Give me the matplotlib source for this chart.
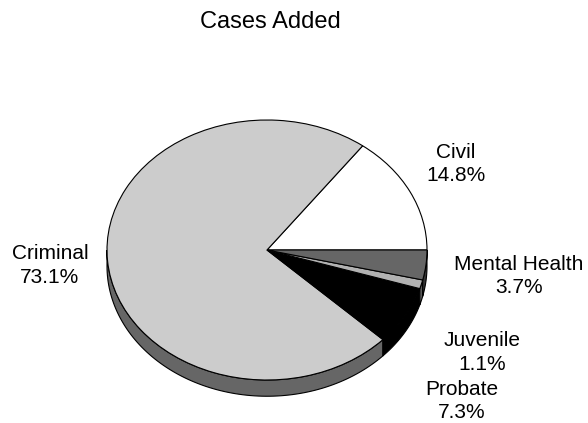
import numpy as np
import matplotlib.pyplot as plt
from matplotlib.patches import Polygon

# datos del grafico
categorias = ["Civil", "Criminal", "Probate", "Juvenile", "Mental Health"]
porcentajes = [14.8, 73.1, 7.3, 1.1, 3.7]
colores = ["#ffffff", "#cccccc", "#000000", "#b2b2b2", "#666666"]
colores_lado = ["#ffffff", "#666666", "#000000", "#5a5a5a", "#333333"]

# posicion de las etiquetas (x, y en unidades del radio)
pos_etiquetas = [(1.18, 0.66), (-1.357, -0.12), (1.219, -1.16), (1.344, -0.79), (1.575, -0.20)]

plt.rcParams['font.family'] = ['Liberation Sans', 'DejaVu Sans']

fig = plt.figure(figsize=(5.88, 4.23), dpi=100)
ax = fig.add_axes([0, 0, 1, 1])
ax.axis('off')

grosor = 0.125

# lados del pastel (solo la mitad de abajo se ve)
total = sum(porcentajes)
ang = 0.0
for p, cl in zip(porcentajes, colores_lado):
    a0 = ang
    a1 = ang + 360.0 * p / total
    ang = a1
    lo = max(a0, 180.0)
    hi = min(a1, 360.0)
    if hi <= lo:
        continue
    t = np.radians(np.linspace(lo, hi, 100))
    arriba = np.column_stack([np.cos(t), np.sin(t)])
    abajo = np.column_stack([np.cos(t[::-1]), np.sin(t[::-1]) - grosor])
    ax.add_patch(Polygon(np.vstack([arriba, abajo]), closed=True,
                         facecolor=cl, edgecolor='black', linewidth=0.8))

# cara de arriba
ax.pie(porcentajes, colors=colores, startangle=0, counterclock=True,
       wedgeprops=dict(edgecolor='black', linewidth=0.8))

for nombre, p, (x, y) in zip(categorias, porcentajes, pos_etiquetas):
    ax.text(x, y, nombre + "\n" + str(p) + "%", ha='center', va='center',
            fontsize=15, linespacing=1.3)

ax.set_xlim(-267 / 160, (588 - 267) / 160)
ax.set_ylim(-173 / 130, 250 / 130)
ax.set_aspect('auto')

fig.text(0.459, 1 - 22 / 423, "Cases Added", ha='center', va='center', fontsize=17)

fig.savefig("out.png", dpi=100)
